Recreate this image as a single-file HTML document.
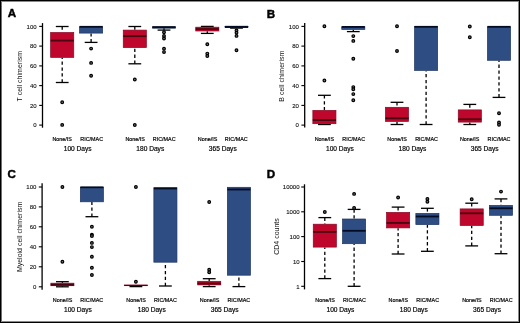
<!DOCTYPE html>
<html><head><meta charset="utf-8"><style>
html,body{margin:0;padding:0;background:#fff;}
body{width:520px;height:323px;overflow:hidden;}
svg{display:block;will-change:transform;}
text{font-family:"Liberation Sans",sans-serif;fill:#000;}
.pl{font-size:11.6px;font-weight:bold;stroke:#000;stroke-width:0.45px;}
.tk{font-size:5.5px;fill:#111;stroke:#111;stroke-width:0.1px;}
.yt{font-size:7px;fill:#111;}
.xl{font-size:5.4px;fill:#000;stroke:#000;stroke-width:0.18px;}
.dl{font-size:6.6px;fill:#000;stroke:#000;stroke-width:0.18px;}
</style></head><body>
<svg width="520" height="323" viewBox="0 0 520 323">
<rect x="0" y="0" width="520" height="323" fill="#fff"/>
<text x="7.8" y="17.3" class="pl">A</text>
<line x1="42.5" y1="23.1" x2="42.5" y2="127.7" stroke="#000" stroke-width="1.3"/>
<line x1="39.2" y1="26.4" x2="42.5" y2="26.4" stroke="#000" stroke-width="1.1"/>
<text x="0" y="0" class="tk" text-anchor="end" transform="translate(36.6,28.7) scale(1.1,1)">100</text>
<line x1="39.2" y1="46.1" x2="42.5" y2="46.1" stroke="#000" stroke-width="1.1"/>
<text x="0" y="0" class="tk" text-anchor="end" transform="translate(36.6,48.4) scale(1.1,1)">80</text>
<line x1="39.2" y1="65.9" x2="42.5" y2="65.9" stroke="#000" stroke-width="1.1"/>
<text x="0" y="0" class="tk" text-anchor="end" transform="translate(36.6,68.2) scale(1.1,1)">60</text>
<line x1="39.2" y1="85.6" x2="42.5" y2="85.6" stroke="#000" stroke-width="1.1"/>
<text x="0" y="0" class="tk" text-anchor="end" transform="translate(36.6,87.89999999999999) scale(1.1,1)">40</text>
<line x1="39.2" y1="105.4" x2="42.5" y2="105.4" stroke="#000" stroke-width="1.1"/>
<text x="0" y="0" class="tk" text-anchor="end" transform="translate(36.6,107.7) scale(1.1,1)">20</text>
<line x1="39.2" y1="125.1" x2="42.5" y2="125.1" stroke="#000" stroke-width="1.1"/>
<text x="0" y="0" class="tk" text-anchor="end" transform="translate(36.6,127.39999999999999) scale(1.1,1)">0</text>
<text x="0" y="0" class="yt" text-anchor="middle" transform="translate(21.9,76.2) rotate(-90)">T cell chimerism</text>
<line x1="62.2" y1="26.5" x2="62.2" y2="32.2" stroke="#000" stroke-width="1.3" stroke-dasharray="3.3 2.6"/>
<line x1="62.2" y1="82.5" x2="62.2" y2="57.7" stroke="#000" stroke-width="1.3" stroke-dasharray="3.3 2.6"/>
<line x1="55.800000000000004" y1="26.5" x2="68.60000000000001" y2="26.5" stroke="#000" stroke-width="1.3"/>
<line x1="55.800000000000004" y1="82.5" x2="68.60000000000001" y2="82.5" stroke="#000" stroke-width="1.3"/>
<rect x="50.650000000000006" y="32.50" width="23.1" height="24.90" fill="#bf072e" stroke="#8a0623" stroke-width="0.7"/>
<line x1="50.650000000000006" y1="40.6" x2="73.75" y2="40.6" stroke="#4a000e" stroke-width="1.8"/>
<circle cx="62.2" cy="102.3" r="1.35" fill="#777" stroke="#000" stroke-width="1.2"/>
<circle cx="62.2" cy="124.9" r="1.35" fill="#777" stroke="#000" stroke-width="1.2"/>
<line x1="91.1" y1="42.4" x2="91.1" y2="33.4" stroke="#000" stroke-width="1.3" stroke-dasharray="3.3 2.6"/>
<line x1="84.69999999999999" y1="42.4" x2="97.5" y2="42.4" stroke="#000" stroke-width="1.3"/>
<rect x="79.55" y="26.80" width="23.1" height="6.30" fill="#2e4d83" stroke="#1f3560" stroke-width="0.7"/>
<line x1="79.55" y1="26.8" x2="102.64999999999999" y2="26.8" stroke="#030c22" stroke-width="1.8"/>
<circle cx="91.1" cy="48.6" r="1.35" fill="#777" stroke="#000" stroke-width="1.2"/>
<circle cx="91.1" cy="62.9" r="1.35" fill="#777" stroke="#000" stroke-width="1.2"/>
<circle cx="91.1" cy="75.8" r="1.35" fill="#777" stroke="#000" stroke-width="1.2"/>
<line x1="134.8" y1="26.5" x2="134.8" y2="29.8" stroke="#000" stroke-width="1.3" stroke-dasharray="3.3 2.6"/>
<line x1="134.8" y1="63.8" x2="134.8" y2="47.9" stroke="#000" stroke-width="1.3" stroke-dasharray="3.3 2.6"/>
<line x1="128.4" y1="26.5" x2="141.20000000000002" y2="26.5" stroke="#000" stroke-width="1.3"/>
<line x1="128.4" y1="63.8" x2="141.20000000000002" y2="63.8" stroke="#000" stroke-width="1.3"/>
<rect x="123.25000000000001" y="30.10" width="23.1" height="17.50" fill="#bf072e" stroke="#8a0623" stroke-width="0.7"/>
<line x1="123.25000000000001" y1="36.2" x2="146.35000000000002" y2="36.2" stroke="#4a000e" stroke-width="1.8"/>
<circle cx="134.8" cy="79.5" r="1.35" fill="#777" stroke="#000" stroke-width="1.2"/>
<circle cx="134.8" cy="125.0" r="1.35" fill="#777" stroke="#000" stroke-width="1.2"/>
<line x1="164.0" y1="30.1" x2="164.0" y2="28.3" stroke="#000" stroke-width="1.3" stroke-dasharray="3.3 2.6"/>
<line x1="157.6" y1="30.1" x2="170.4" y2="30.1" stroke="#000" stroke-width="1.3"/>
<rect x="152.45" y="26.80" width="23.1" height="1.20" fill="#2e4d83" stroke="#1f3560" stroke-width="0.7"/>
<line x1="152.45" y1="27.3" x2="175.55" y2="27.3" stroke="#030c22" stroke-width="2.1"/>
<circle cx="164.0" cy="32.3" r="1.35" fill="#777" stroke="#000" stroke-width="1.2"/>
<circle cx="164.0" cy="35.9" r="1.35" fill="#777" stroke="#000" stroke-width="1.2"/>
<circle cx="164.0" cy="38.5" r="1.35" fill="#777" stroke="#000" stroke-width="1.2"/>
<circle cx="164.0" cy="48.8" r="1.35" fill="#777" stroke="#000" stroke-width="1.2"/>
<circle cx="164.0" cy="52.1" r="1.35" fill="#777" stroke="#000" stroke-width="1.2"/>
<line x1="207.3" y1="33.4" x2="207.3" y2="31.3" stroke="#000" stroke-width="1.3" stroke-dasharray="3.3 2.6"/>
<line x1="200.9" y1="26.4" x2="213.70000000000002" y2="26.4" stroke="#000" stroke-width="1.3"/>
<line x1="200.9" y1="33.4" x2="213.70000000000002" y2="33.4" stroke="#000" stroke-width="1.3"/>
<rect x="195.75" y="27.20" width="23.1" height="3.80" fill="#bf072e" stroke="#8a0623" stroke-width="0.7"/>
<line x1="195.75" y1="29.1" x2="218.85000000000002" y2="29.1" stroke="#4a000e" stroke-width="1.8"/>
<circle cx="207.3" cy="44.2" r="1.35" fill="#777" stroke="#000" stroke-width="1.2"/>
<circle cx="207.3" cy="53.6" r="1.35" fill="#777" stroke="#000" stroke-width="1.2"/>
<circle cx="207.3" cy="56.0" r="1.35" fill="#777" stroke="#000" stroke-width="1.2"/>
<line x1="236.5" y1="28.1" x2="236.5" y2="27.4" stroke="#000" stroke-width="1.3" stroke-dasharray="3.3 2.6"/>
<line x1="230.1" y1="28.1" x2="242.9" y2="28.1" stroke="#000" stroke-width="1.3"/>
<rect x="224.95" y="26.60" width="23.1" height="0.50" fill="#2e4d83" stroke="#1f3560" stroke-width="0.7"/>
<line x1="224.95" y1="26.9" x2="248.05" y2="26.9" stroke="#030c22" stroke-width="2.1"/>
<circle cx="236.5" cy="30.5" r="1.35" fill="#777" stroke="#000" stroke-width="1.2"/>
<circle cx="236.5" cy="32.8" r="1.35" fill="#777" stroke="#000" stroke-width="1.2"/>
<circle cx="236.5" cy="35.9" r="1.35" fill="#777" stroke="#000" stroke-width="1.2"/>
<circle cx="236.5" cy="50.3" r="1.35" fill="#777" stroke="#000" stroke-width="1.2"/>
<text x="62.2" y="140.6" class="xl" text-anchor="middle">None/IS</text>
<text x="91.65" y="140.6" class="xl" text-anchor="middle">RIC/MAC</text>
<text x="77.7" y="150.8" class="dl" text-anchor="middle">100 Days</text>
<text x="135.2" y="140.6" class="xl" text-anchor="middle">None/IS</text>
<text x="164.2" y="140.6" class="xl" text-anchor="middle">RIC/MAC</text>
<text x="150.3" y="150.8" class="dl" text-anchor="middle">180 Days</text>
<text x="207.55" y="140.6" class="xl" text-anchor="middle">None/IS</text>
<text x="236.25" y="140.6" class="xl" text-anchor="middle">RIC/MAC</text>
<text x="222.8" y="150.8" class="dl" text-anchor="middle">365 Days</text>
<text x="266.7" y="17.6" class="pl">B</text>
<line x1="304.7" y1="23.1" x2="304.7" y2="127.5" stroke="#000" stroke-width="1.3"/>
<line x1="301.4" y1="26.4" x2="304.7" y2="26.4" stroke="#000" stroke-width="1.1"/>
<text x="0" y="0" class="tk" text-anchor="end" transform="translate(298.9,28.7) scale(1.1,1)">100</text>
<line x1="301.4" y1="46.1" x2="304.7" y2="46.1" stroke="#000" stroke-width="1.1"/>
<text x="0" y="0" class="tk" text-anchor="end" transform="translate(298.9,48.4) scale(1.1,1)">80</text>
<line x1="301.4" y1="65.9" x2="304.7" y2="65.9" stroke="#000" stroke-width="1.1"/>
<text x="0" y="0" class="tk" text-anchor="end" transform="translate(298.9,68.2) scale(1.1,1)">60</text>
<line x1="301.4" y1="85.6" x2="304.7" y2="85.6" stroke="#000" stroke-width="1.1"/>
<text x="0" y="0" class="tk" text-anchor="end" transform="translate(298.9,87.89999999999999) scale(1.1,1)">40</text>
<line x1="301.4" y1="105.4" x2="304.7" y2="105.4" stroke="#000" stroke-width="1.1"/>
<text x="0" y="0" class="tk" text-anchor="end" transform="translate(298.9,107.7) scale(1.1,1)">20</text>
<line x1="301.4" y1="125.1" x2="304.7" y2="125.1" stroke="#000" stroke-width="1.1"/>
<text x="0" y="0" class="tk" text-anchor="end" transform="translate(298.9,127.39999999999999) scale(1.1,1)">0</text>
<text x="0" y="0" class="yt" text-anchor="middle" transform="translate(284.4,76.2) rotate(-90)">B cell chimerism</text>
<line x1="324.4" y1="95.3" x2="324.4" y2="110.1" stroke="#000" stroke-width="1.3" stroke-dasharray="3.3 2.6"/>
<line x1="318.0" y1="95.3" x2="330.79999999999995" y2="95.3" stroke="#000" stroke-width="1.3"/>
<line x1="318.0" y1="124.5" x2="330.79999999999995" y2="124.5" stroke="#000" stroke-width="1.3"/>
<rect x="312.84999999999997" y="110.40" width="23.1" height="13.30" fill="#bf072e" stroke="#8a0623" stroke-width="0.7"/>
<line x1="312.84999999999997" y1="120.1" x2="335.95" y2="120.1" stroke="#4a000e" stroke-width="1.8"/>
<circle cx="324.4" cy="26.3" r="1.35" fill="#777" stroke="#000" stroke-width="1.2"/>
<circle cx="324.4" cy="80.5" r="1.35" fill="#777" stroke="#000" stroke-width="1.2"/>
<line x1="353.3" y1="31.6" x2="353.3" y2="29.8" stroke="#000" stroke-width="1.3" stroke-dasharray="3.3 2.6"/>
<line x1="346.90000000000003" y1="31.6" x2="359.7" y2="31.6" stroke="#000" stroke-width="1.3"/>
<rect x="341.75" y="26.80" width="23.1" height="2.70" fill="#2e4d83" stroke="#1f3560" stroke-width="0.7"/>
<line x1="341.75" y1="26.9" x2="364.85" y2="26.9" stroke="#030c22" stroke-width="1.8"/>
<circle cx="353.3" cy="36.1" r="1.35" fill="#777" stroke="#000" stroke-width="1.2"/>
<circle cx="353.3" cy="40.9" r="1.35" fill="#777" stroke="#000" stroke-width="1.2"/>
<circle cx="353.3" cy="58.7" r="1.35" fill="#777" stroke="#000" stroke-width="1.2"/>
<circle cx="353.3" cy="87.1" r="1.35" fill="#777" stroke="#000" stroke-width="1.2"/>
<circle cx="353.3" cy="89.3" r="1.35" fill="#777" stroke="#000" stroke-width="1.2"/>
<circle cx="353.3" cy="94.1" r="1.35" fill="#777" stroke="#000" stroke-width="1.2"/>
<circle cx="353.3" cy="100.3" r="1.35" fill="#777" stroke="#000" stroke-width="1.2"/>
<line x1="397.0" y1="102.3" x2="397.0" y2="107.0" stroke="#000" stroke-width="1.3" stroke-dasharray="3.3 2.6"/>
<line x1="397.0" y1="124.5" x2="397.0" y2="121.7" stroke="#000" stroke-width="1.3" stroke-dasharray="3.3 2.6"/>
<line x1="390.6" y1="102.3" x2="403.4" y2="102.3" stroke="#000" stroke-width="1.3"/>
<line x1="390.6" y1="124.5" x2="403.4" y2="124.5" stroke="#000" stroke-width="1.3"/>
<rect x="385.45" y="107.30" width="23.1" height="14.10" fill="#bf072e" stroke="#8a0623" stroke-width="0.7"/>
<line x1="385.45" y1="118.3" x2="408.55" y2="118.3" stroke="#4a000e" stroke-width="1.8"/>
<circle cx="397.0" cy="26.2" r="1.35" fill="#777" stroke="#000" stroke-width="1.2"/>
<circle cx="397.0" cy="51.0" r="1.35" fill="#777" stroke="#000" stroke-width="1.2"/>
<line x1="426.1" y1="124.5" x2="426.1" y2="70.7" stroke="#000" stroke-width="1.3" stroke-dasharray="3.3 2.6"/>
<line x1="419.70000000000005" y1="124.5" x2="432.5" y2="124.5" stroke="#000" stroke-width="1.3"/>
<rect x="414.55" y="26.60" width="23.1" height="43.80" fill="#2e4d83" stroke="#1f3560" stroke-width="0.7"/>
<line x1="414.55" y1="26.8" x2="437.65000000000003" y2="26.8" stroke="#030c22" stroke-width="1.8"/>
<line x1="469.8" y1="104.4" x2="469.8" y2="109.6" stroke="#000" stroke-width="1.3" stroke-dasharray="3.3 2.6"/>
<line x1="469.8" y1="124.5" x2="469.8" y2="122.4" stroke="#000" stroke-width="1.3" stroke-dasharray="3.3 2.6"/>
<line x1="463.40000000000003" y1="104.4" x2="476.2" y2="104.4" stroke="#000" stroke-width="1.3"/>
<line x1="463.40000000000003" y1="124.5" x2="476.2" y2="124.5" stroke="#000" stroke-width="1.3"/>
<rect x="458.25" y="109.90" width="23.1" height="12.20" fill="#bf072e" stroke="#8a0623" stroke-width="0.7"/>
<line x1="458.25" y1="119.3" x2="481.35" y2="119.3" stroke="#4a000e" stroke-width="1.8"/>
<circle cx="469.8" cy="26.5" r="1.35" fill="#777" stroke="#000" stroke-width="1.2"/>
<circle cx="469.8" cy="37.3" r="1.35" fill="#777" stroke="#000" stroke-width="1.2"/>
<line x1="499.0" y1="97.4" x2="499.0" y2="60.6" stroke="#000" stroke-width="1.3" stroke-dasharray="3.3 2.6"/>
<line x1="492.6" y1="97.4" x2="505.4" y2="97.4" stroke="#000" stroke-width="1.3"/>
<rect x="487.45" y="26.80" width="23.1" height="33.50" fill="#2e4d83" stroke="#1f3560" stroke-width="0.7"/>
<line x1="487.45" y1="26.8" x2="510.55" y2="26.8" stroke="#030c22" stroke-width="1.8"/>
<circle cx="499.0" cy="113.3" r="1.35" fill="#777" stroke="#000" stroke-width="1.2"/>
<circle cx="499.0" cy="122.4" r="1.35" fill="#777" stroke="#000" stroke-width="1.2"/>
<circle cx="499.0" cy="124.8" r="1.35" fill="#777" stroke="#000" stroke-width="1.2"/>
<text x="324.4" y="140.6" class="xl" text-anchor="middle">None/IS</text>
<text x="353.7" y="140.6" class="xl" text-anchor="middle">RIC/MAC</text>
<text x="339.95" y="150.7" class="dl" text-anchor="middle">100 Days</text>
<text x="397.0" y="140.6" class="xl" text-anchor="middle">None/IS</text>
<text x="426.6" y="140.6" class="xl" text-anchor="middle">RIC/MAC</text>
<text x="412.5" y="150.7" class="dl" text-anchor="middle">180 Days</text>
<text x="469.7" y="140.6" class="xl" text-anchor="middle">None/IS</text>
<text x="499.0" y="140.6" class="xl" text-anchor="middle">RIC/MAC</text>
<text x="484.7" y="150.7" class="dl" text-anchor="middle">365 Days</text>
<text x="7.4" y="178.3" class="pl">C</text>
<line x1="42.1" y1="183.3" x2="42.1" y2="289.7" stroke="#000" stroke-width="1.3"/>
<line x1="38.800000000000004" y1="187.0" x2="42.1" y2="187.0" stroke="#000" stroke-width="1.1"/>
<text x="0" y="0" class="tk" text-anchor="end" transform="translate(36.4,189.3) scale(1.1,1)">100</text>
<line x1="38.800000000000004" y1="206.9" x2="42.1" y2="206.9" stroke="#000" stroke-width="1.1"/>
<text x="0" y="0" class="tk" text-anchor="end" transform="translate(36.4,209.20000000000002) scale(1.1,1)">80</text>
<line x1="38.800000000000004" y1="226.8" x2="42.1" y2="226.8" stroke="#000" stroke-width="1.1"/>
<text x="0" y="0" class="tk" text-anchor="end" transform="translate(36.4,229.10000000000002) scale(1.1,1)">60</text>
<line x1="38.800000000000004" y1="246.8" x2="42.1" y2="246.8" stroke="#000" stroke-width="1.1"/>
<text x="0" y="0" class="tk" text-anchor="end" transform="translate(36.4,249.10000000000002) scale(1.1,1)">40</text>
<line x1="38.800000000000004" y1="266.8" x2="42.1" y2="266.8" stroke="#000" stroke-width="1.1"/>
<text x="0" y="0" class="tk" text-anchor="end" transform="translate(36.4,269.1) scale(1.1,1)">20</text>
<line x1="38.800000000000004" y1="286.8" x2="42.1" y2="286.8" stroke="#000" stroke-width="1.1"/>
<text x="0" y="0" class="tk" text-anchor="end" transform="translate(36.4,289.1) scale(1.1,1)">0</text>
<text x="0" y="0" class="yt" text-anchor="middle" transform="translate(22.0,236.9) rotate(-90)">Myeloid cell chimerism</text>
<line x1="62.4" y1="281.7" x2="62.4" y2="282.9" stroke="#000" stroke-width="1.3" stroke-dasharray="3.3 2.6"/>
<line x1="62.4" y1="286.8" x2="62.4" y2="286.0" stroke="#000" stroke-width="1.3" stroke-dasharray="3.3 2.6"/>
<line x1="56.0" y1="281.7" x2="68.8" y2="281.7" stroke="#000" stroke-width="1.3"/>
<line x1="56.0" y1="286.8" x2="68.8" y2="286.8" stroke="#000" stroke-width="1.3"/>
<rect x="50.849999999999994" y="283.20" width="23.1" height="2.50" fill="#bf072e" stroke="#8a0623" stroke-width="0.7"/>
<line x1="50.849999999999994" y1="284.8" x2="73.95" y2="284.8" stroke="#4a000e" stroke-width="1.8"/>
<circle cx="62.4" cy="187.0" r="1.35" fill="#777" stroke="#000" stroke-width="1.2"/>
<circle cx="62.4" cy="261.8" r="1.35" fill="#777" stroke="#000" stroke-width="1.2"/>
<line x1="91.9" y1="216.7" x2="91.9" y2="202.1" stroke="#000" stroke-width="1.3" stroke-dasharray="3.3 2.6"/>
<line x1="85.5" y1="216.7" x2="98.30000000000001" y2="216.7" stroke="#000" stroke-width="1.3"/>
<rect x="80.35000000000001" y="187.30" width="23.1" height="14.50" fill="#2e4d83" stroke="#1f3560" stroke-width="0.7"/>
<line x1="80.35000000000001" y1="187.3" x2="103.45" y2="187.3" stroke="#030c22" stroke-width="1.8"/>
<circle cx="91.9" cy="226.7" r="1.35" fill="#777" stroke="#000" stroke-width="1.2"/>
<circle cx="91.9" cy="234.7" r="1.35" fill="#777" stroke="#000" stroke-width="1.2"/>
<circle cx="91.9" cy="236.0" r="1.35" fill="#777" stroke="#000" stroke-width="1.2"/>
<circle cx="91.9" cy="242.9" r="1.35" fill="#777" stroke="#000" stroke-width="1.2"/>
<circle cx="91.9" cy="247.1" r="1.35" fill="#777" stroke="#000" stroke-width="1.2"/>
<circle cx="91.9" cy="256.8" r="1.35" fill="#777" stroke="#000" stroke-width="1.2"/>
<circle cx="91.9" cy="267.7" r="1.35" fill="#777" stroke="#000" stroke-width="1.2"/>
<circle cx="91.9" cy="275.0" r="1.35" fill="#777" stroke="#000" stroke-width="1.2"/>
<line x1="135.9" y1="286.6" x2="135.9" y2="286.0" stroke="#000" stroke-width="1.3" stroke-dasharray="3.3 2.6"/>
<line x1="129.5" y1="286.6" x2="142.3" y2="286.6" stroke="#000" stroke-width="1.3"/>
<rect x="124.35000000000001" y="285.00" width="23.1" height="0.70" fill="#bf072e" stroke="#8a0623" stroke-width="0.7"/>
<line x1="124.35000000000001" y1="285.4" x2="147.45000000000002" y2="285.4" stroke="#4a000e" stroke-width="1.0"/>
<circle cx="135.9" cy="187.0" r="1.35" fill="#777" stroke="#000" stroke-width="1.2"/>
<circle cx="135.9" cy="281.8" r="1.35" fill="#777" stroke="#000" stroke-width="1.2"/>
<line x1="165.4" y1="286.0" x2="165.4" y2="262.5" stroke="#000" stroke-width="1.3" stroke-dasharray="3.3 2.6"/>
<line x1="159.0" y1="286.0" x2="171.8" y2="286.0" stroke="#000" stroke-width="1.3"/>
<rect x="153.85" y="187.70" width="23.1" height="74.50" fill="#2e4d83" stroke="#1f3560" stroke-width="0.7"/>
<line x1="153.85" y1="188.5" x2="176.95000000000002" y2="188.5" stroke="#030c22" stroke-width="1.8"/>
<line x1="209.2" y1="278.7" x2="209.2" y2="281.0" stroke="#000" stroke-width="1.3" stroke-dasharray="3.3 2.6"/>
<line x1="209.2" y1="286.6" x2="209.2" y2="285.2" stroke="#000" stroke-width="1.3" stroke-dasharray="3.3 2.6"/>
<line x1="202.79999999999998" y1="278.7" x2="215.6" y2="278.7" stroke="#000" stroke-width="1.3"/>
<line x1="202.79999999999998" y1="286.6" x2="215.6" y2="286.6" stroke="#000" stroke-width="1.3"/>
<rect x="197.64999999999998" y="281.30" width="23.1" height="3.60" fill="#bf072e" stroke="#8a0623" stroke-width="0.7"/>
<line x1="197.64999999999998" y1="283.5" x2="220.75" y2="283.5" stroke="#4a000e" stroke-width="1.8"/>
<circle cx="209.2" cy="202.0" r="1.35" fill="#777" stroke="#000" stroke-width="1.2"/>
<circle cx="209.2" cy="269.8" r="1.35" fill="#777" stroke="#000" stroke-width="1.2"/>
<circle cx="209.2" cy="272.3" r="1.35" fill="#777" stroke="#000" stroke-width="1.2"/>
<line x1="238.9" y1="286.6" x2="238.9" y2="275.5" stroke="#000" stroke-width="1.3" stroke-dasharray="3.3 2.6"/>
<line x1="232.5" y1="286.6" x2="245.3" y2="286.6" stroke="#000" stroke-width="1.3"/>
<rect x="227.35" y="187.30" width="23.1" height="87.90" fill="#2e4d83" stroke="#1f3560" stroke-width="0.7"/>
<line x1="227.35" y1="189.5" x2="250.45000000000002" y2="189.5" stroke="#030c22" stroke-width="1.8"/>
<text x="62.5" y="302.0" class="xl" text-anchor="middle">None/IS</text>
<text x="91.75" y="302.0" class="xl" text-anchor="middle">RIC/MAC</text>
<text x="77.95" y="311.9" class="dl" text-anchor="middle">100 Days</text>
<text x="136.0" y="302.0" class="xl" text-anchor="middle">None/IS</text>
<text x="165.45" y="302.0" class="xl" text-anchor="middle">RIC/MAC</text>
<text x="151.8" y="311.9" class="dl" text-anchor="middle">180 Days</text>
<text x="209.5" y="302.0" class="xl" text-anchor="middle">None/IS</text>
<text x="238.85" y="302.0" class="xl" text-anchor="middle">RIC/MAC</text>
<text x="224.7" y="311.9" class="dl" text-anchor="middle">365 Days</text>
<text x="266.7" y="177.6" class="pl">D</text>
<line x1="304.5" y1="184.3" x2="304.5" y2="289.4" stroke="#000" stroke-width="1.3"/>
<line x1="301.2" y1="187.0" x2="304.5" y2="187.0" stroke="#000" stroke-width="1.1"/>
<text x="0" y="0" class="tk" text-anchor="end" transform="translate(299.6,189.3) scale(1.1,1)">10000</text>
<line x1="301.2" y1="211.8" x2="304.5" y2="211.8" stroke="#000" stroke-width="1.1"/>
<text x="0" y="0" class="tk" text-anchor="end" transform="translate(299.6,214.10000000000002) scale(1.1,1)">1000</text>
<line x1="301.2" y1="236.6" x2="304.5" y2="236.6" stroke="#000" stroke-width="1.1"/>
<text x="0" y="0" class="tk" text-anchor="end" transform="translate(299.6,238.9) scale(1.1,1)">100</text>
<line x1="301.2" y1="261.5" x2="304.5" y2="261.5" stroke="#000" stroke-width="1.1"/>
<text x="0" y="0" class="tk" text-anchor="end" transform="translate(299.6,263.8) scale(1.1,1)">10</text>
<line x1="301.2" y1="286.3" x2="304.5" y2="286.3" stroke="#000" stroke-width="1.1"/>
<text x="0" y="0" class="tk" text-anchor="end" transform="translate(299.6,288.6) scale(1.1,1)">1</text>
<text x="0" y="0" class="yt" text-anchor="middle" transform="translate(278.6,236.5) rotate(-90)">CD4 counts</text>
<line x1="324.8" y1="217.6" x2="324.8" y2="223.9" stroke="#000" stroke-width="1.3" stroke-dasharray="3.3 2.6"/>
<line x1="324.8" y1="278.6" x2="324.8" y2="247.4" stroke="#000" stroke-width="1.3" stroke-dasharray="3.3 2.6"/>
<line x1="318.40000000000003" y1="217.6" x2="331.2" y2="217.6" stroke="#000" stroke-width="1.3"/>
<line x1="318.40000000000003" y1="278.6" x2="331.2" y2="278.6" stroke="#000" stroke-width="1.3"/>
<rect x="313.25" y="224.20" width="23.1" height="22.90" fill="#bf072e" stroke="#8a0623" stroke-width="0.7"/>
<line x1="313.25" y1="231.9" x2="336.35" y2="231.9" stroke="#4a000e" stroke-width="1.8"/>
<circle cx="324.8" cy="212.0" r="1.35" fill="#777" stroke="#000" stroke-width="1.2"/>
<line x1="354.1" y1="209.4" x2="354.1" y2="218.7" stroke="#000" stroke-width="1.3" stroke-dasharray="3.3 2.6"/>
<line x1="354.1" y1="286.3" x2="354.1" y2="244.0" stroke="#000" stroke-width="1.3" stroke-dasharray="3.3 2.6"/>
<line x1="347.70000000000005" y1="209.4" x2="360.5" y2="209.4" stroke="#000" stroke-width="1.3"/>
<line x1="347.70000000000005" y1="286.3" x2="360.5" y2="286.3" stroke="#000" stroke-width="1.3"/>
<rect x="342.55" y="219.00" width="23.1" height="24.70" fill="#2e4d83" stroke="#1f3560" stroke-width="0.7"/>
<line x1="342.55" y1="230.8" x2="365.65000000000003" y2="230.8" stroke="#030c22" stroke-width="1.8"/>
<circle cx="354.1" cy="193.9" r="1.35" fill="#777" stroke="#000" stroke-width="1.2"/>
<circle cx="354.1" cy="207.9" r="1.35" fill="#777" stroke="#000" stroke-width="1.2"/>
<line x1="398.1" y1="207.1" x2="398.1" y2="212.1" stroke="#000" stroke-width="1.3" stroke-dasharray="3.3 2.6"/>
<line x1="398.1" y1="254.0" x2="398.1" y2="228.2" stroke="#000" stroke-width="1.3" stroke-dasharray="3.3 2.6"/>
<line x1="391.70000000000005" y1="207.1" x2="404.5" y2="207.1" stroke="#000" stroke-width="1.3"/>
<line x1="391.70000000000005" y1="254.0" x2="404.5" y2="254.0" stroke="#000" stroke-width="1.3"/>
<rect x="386.55" y="212.40" width="23.1" height="15.50" fill="#bf072e" stroke="#8a0623" stroke-width="0.7"/>
<line x1="386.55" y1="222.9" x2="409.65000000000003" y2="222.9" stroke="#4a000e" stroke-width="1.8"/>
<circle cx="398.1" cy="197.5" r="1.35" fill="#777" stroke="#000" stroke-width="1.2"/>
<line x1="427.4" y1="208.3" x2="427.4" y2="213.1" stroke="#000" stroke-width="1.3" stroke-dasharray="3.3 2.6"/>
<line x1="427.4" y1="251.3" x2="427.4" y2="224.9" stroke="#000" stroke-width="1.3" stroke-dasharray="3.3 2.6"/>
<line x1="421.0" y1="208.3" x2="433.79999999999995" y2="208.3" stroke="#000" stroke-width="1.3"/>
<line x1="421.0" y1="251.3" x2="433.79999999999995" y2="251.3" stroke="#000" stroke-width="1.3"/>
<rect x="415.84999999999997" y="213.40" width="23.1" height="11.20" fill="#2e4d83" stroke="#1f3560" stroke-width="0.7"/>
<line x1="415.84999999999997" y1="216.5" x2="438.95" y2="216.5" stroke="#030c22" stroke-width="1.8"/>
<circle cx="427.4" cy="198.9" r="1.35" fill="#777" stroke="#000" stroke-width="1.2"/>
<circle cx="427.4" cy="201.7" r="1.35" fill="#777" stroke="#000" stroke-width="1.2"/>
<line x1="471.7" y1="203.2" x2="471.7" y2="208.6" stroke="#000" stroke-width="1.3" stroke-dasharray="3.3 2.6"/>
<line x1="471.7" y1="245.9" x2="471.7" y2="225.8" stroke="#000" stroke-width="1.3" stroke-dasharray="3.3 2.6"/>
<line x1="465.3" y1="203.2" x2="478.09999999999997" y2="203.2" stroke="#000" stroke-width="1.3"/>
<line x1="465.3" y1="245.9" x2="478.09999999999997" y2="245.9" stroke="#000" stroke-width="1.3"/>
<rect x="460.15" y="208.90" width="23.1" height="16.60" fill="#bf072e" stroke="#8a0623" stroke-width="0.7"/>
<line x1="460.15" y1="213.3" x2="483.25" y2="213.3" stroke="#4a000e" stroke-width="1.8"/>
<circle cx="471.7" cy="199.3" r="1.35" fill="#777" stroke="#000" stroke-width="1.2"/>
<line x1="501.0" y1="198.9" x2="501.0" y2="205.1" stroke="#000" stroke-width="1.3" stroke-dasharray="3.3 2.6"/>
<line x1="501.0" y1="253.7" x2="501.0" y2="215.6" stroke="#000" stroke-width="1.3" stroke-dasharray="3.3 2.6"/>
<line x1="494.6" y1="198.9" x2="507.4" y2="198.9" stroke="#000" stroke-width="1.3"/>
<line x1="494.6" y1="253.7" x2="507.4" y2="253.7" stroke="#000" stroke-width="1.3"/>
<rect x="489.45" y="205.40" width="23.1" height="9.90" fill="#2e4d83" stroke="#1f3560" stroke-width="0.7"/>
<line x1="489.45" y1="208.3" x2="512.55" y2="208.3" stroke="#030c22" stroke-width="1.8"/>
<circle cx="501.0" cy="191.6" r="1.35" fill="#777" stroke="#000" stroke-width="1.2"/>
<text x="325.0" y="302.1" class="xl" text-anchor="middle">None/IS</text>
<text x="354.5" y="302.1" class="xl" text-anchor="middle">RIC/MAC</text>
<text x="340.45" y="311.9" class="dl" text-anchor="middle">100 Days</text>
<text x="398.3" y="302.1" class="xl" text-anchor="middle">None/IS</text>
<text x="427.65" y="302.1" class="xl" text-anchor="middle">RIC/MAC</text>
<text x="413.8" y="311.9" class="dl" text-anchor="middle">180 Days</text>
<text x="471.9" y="302.1" class="xl" text-anchor="middle">None/IS</text>
<text x="501.15" y="302.1" class="xl" text-anchor="middle">RIC/MAC</text>
<text x="487.05" y="311.9" class="dl" text-anchor="middle">365 Days</text>
<g shape-rendering="crispEdges">
<rect x="1" y="1" width="1" height="321" fill="#707070"/>
<rect x="1" y="1" width="518" height="1" fill="#8a8a8a"/>
<rect x="518" y="1" width="1" height="321" fill="#8a8a8a"/>
<rect x="1" y="321" width="518" height="1" fill="#8a8a8a"/>
<rect x="0" y="0" width="1" height="323" fill="#000"/>
<rect x="0" y="0" width="520" height="1" fill="#000"/>
<rect x="519" y="0" width="1" height="323" fill="#000"/>
<rect x="0" y="322" width="520" height="1" fill="#000"/>
</g>
</svg>
</body></html>
